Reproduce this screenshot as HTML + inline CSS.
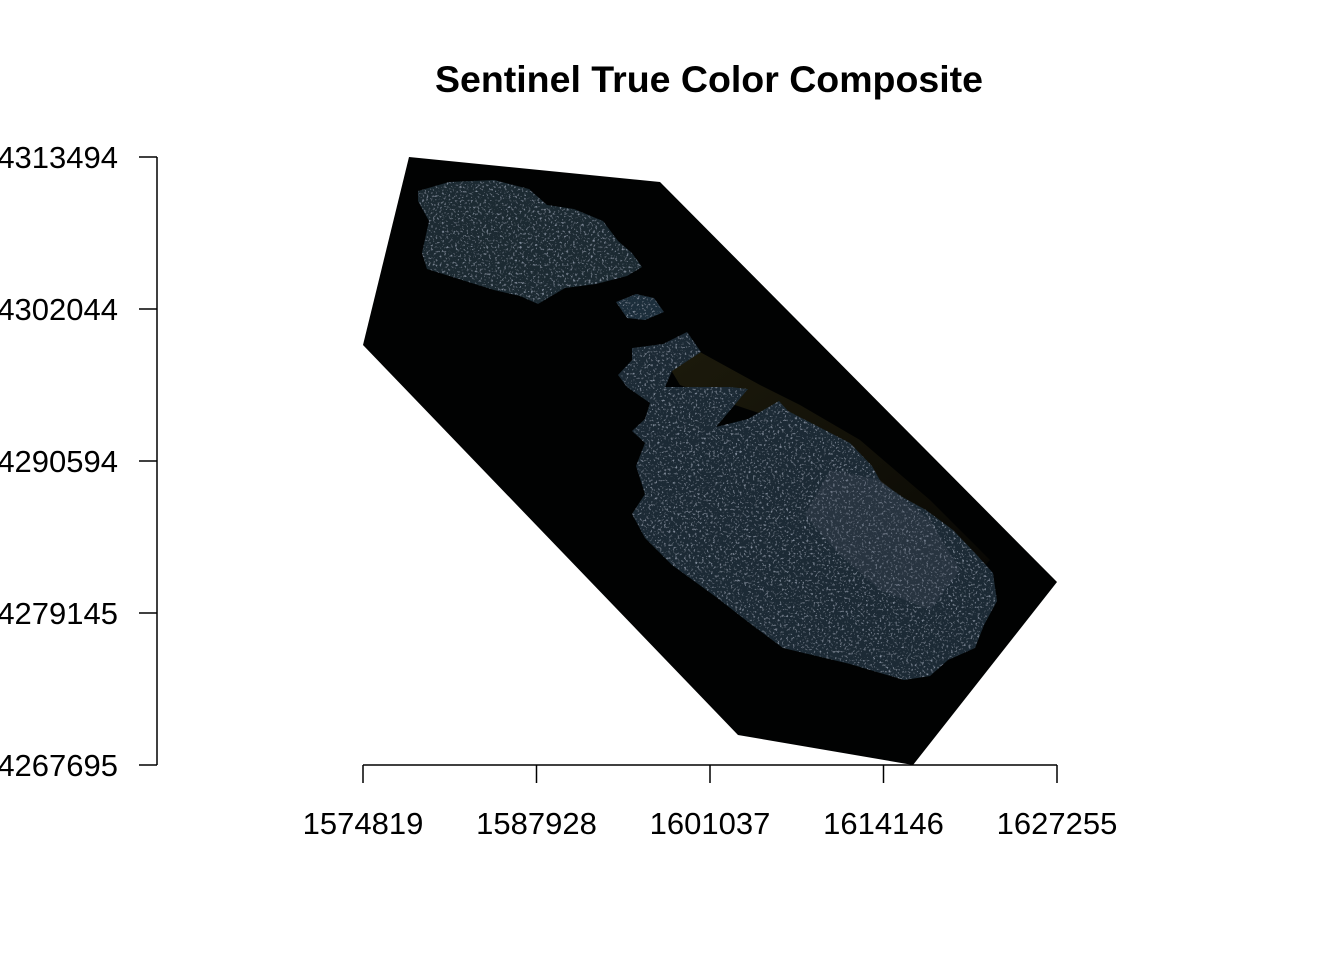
<!DOCTYPE html>
<html><head><meta charset="utf-8"><style>
html,body{margin:0;padding:0;background:#fff;}
svg{display:block;font-family:"Liberation Sans",Arial,sans-serif;}
</style></head><body>
<svg id="chart" width="1344" height="960" viewBox="0 0 1344 960">
<defs>
<filter id="tex" x="0" y="0" width="100%" height="100%">
<feTurbulence type="fractalNoise" baseFrequency="0.45" numOctaves="2" seed="3" result="n"/>
<feColorMatrix in="n" type="matrix" values="0 0 0 0 0.30  0 0 0 0 0.36  0 0 0 0 0.45  0 0 0 3 -1.75" result="speck"/>
<feComposite in="speck" in2="SourceGraphic" operator="in" result="s2"/>
<feMerge><feMergeNode in="SourceGraphic"/><feMergeNode in="s2"/></feMerge>
</filter>
<linearGradient id="sed" x1="0" y1="0" x2="1" y2="1">
<stop offset="0" stop-color="#2e2a12"/><stop offset="1" stop-color="#0e0c06"/>
</linearGradient>
</defs>
<text x="709" y="92" text-anchor="middle" font-size="37.5" font-weight="bold" fill="#000">Sentinel True Color Composite</text>
<g id="raster"></g>
<g id="axes"></g>
</svg>
<script>
const xTicks = [1574819, 1587928, 1601037, 1614146, 1627255];
const yTicks = [4267695, 4279145, 4290594, 4302044, 4313494];
const xTickLabels = ["1574819", "1587928", "1601037", "1614146", "1627255"];
const yTickLabels = ["4267695", "4279145", "4290594", "4302044", "4313494"];
// raster footprint and island outlines (image outline vertices, plot pixels)
const footprint = [[409,157],[660,182],[1057,582],[913,765],[738,735],[363,345]];
const sediment = [[665,360],[700,352],[760,385],[800,405],[860,440],[930,500],[990,560],[980,570],[920,520],[850,470],[780,420],[720,400],[680,385]];
const gozo = [[418,191],[449,182],[494,180],[529,189],[547,205],[574,209],[603,221],[618,241],[632,253],[642,267],[627,276],[596,284],[565,288],[538,304],[520,296],[494,290],[462,280],[427,269],[422,253],[429,221],[418,201]];
const comino = [[616,302],[636,294],[654,298],[664,312],[645,320],[627,318]];
const malta = [[632,348],[663,344],[687,332],[701,352],[672,371],[665,387],[690,387],[730,387],[748,389],[716,427],[748,419],[779,401],[788,411],[850,443],[872,466],[881,482],[904,498],[926,510],[953,530],[975,553],[993,573],[997,601],[984,625],[975,648],[948,660],[930,676],[904,680],[850,664],[783,648],[752,625],[716,597],[672,565],[645,538],[632,514],[645,494],[636,466],[645,443],[632,431],[645,419],[650,403],[627,387],[618,375],[632,360]];
const urban = [[830,470],[880,480],[930,520],[960,570],[930,610],[880,590],[840,555],[805,515]];

const NS = "http://www.w3.org/2000/svg";
const X0 = 363, X1 = 1057, Y0 = 765, Y1 = 157;
function sx(v){ return X0 + (v - xTicks[0]) / (xTicks[xTicks.length-1] - xTicks[0]) * (X1 - X0); }
function sy(v){ return Y0 - (v - yTicks[0]) / (yTicks[yTicks.length-1] - yTicks[0]) * (Y0 - Y1); }
function mk(tag, attrs, parent){ const e = document.createElementNS(NS, tag); for (const k in attrs) e.setAttribute(k, attrs[k]); parent.appendChild(e); return e; }
const pts = a => a.map(p => p.join(",")).join(" ");

const r = document.getElementById("raster");
let p;
p = mk("polygon", {points: pts(footprint), fill: "#010202"}, r);


p = mk("polygon", {points: pts(sediment), fill: "url(#sed)", opacity: "0.6"}, r);


p = mk("polygon", {points: pts(gozo), fill: "#1a2a33", filter: "url(#tex)"}, r);


p = mk("polygon", {points: pts(comino), fill: "#1e2e3a", filter: "url(#tex)"}, r);


p = mk("polygon", {points: pts(malta), fill: "#1b2b35", filter: "url(#tex)"}, r);


p = mk("polygon", {points: pts(urban), fill: "#4a5565", opacity: "0.25"}, r);



const a = document.getElementById("axes");
const st = {stroke: "#000", "stroke-width": "1.5", fill: "none"};
let l = mk("line", Object.assign({x1: sx(xTicks[0]), x2: sx(xTicks[xTicks.length-1]), y1: Y0, y2: Y0}, st), a);


l = mk("line", Object.assign({x1: 157, x2: 157, y1: sy(yTicks[0]), y2: sy(yTicks[yTicks.length-1])}, st), a);


xTicks.forEach((v, i) => {
  const x = sx(v);
  const t = mk("line", Object.assign({x1: x, x2: x, y1: Y0, y2: Y0 + 18}, st), a);
  
  
  const tx = mk("text", {x: x, y: 834, "text-anchor": "middle", "font-size": "31", fill: "#000"}, a);
  tx.textContent = xTickLabels[i];
  
  
});
yTicks.forEach((v, i) => {
  const y = sy(v);
  const t = mk("line", Object.assign({x1: 139, x2: 157, y1: y, y2: y}, st), a);
  
  
  const tx = mk("text", {x: 118, y: y + 11, "text-anchor": "end", "font-size": "31", fill: "#000"}, a);
  tx.textContent = yTickLabels[i];
  
  
});
</script>
</body></html>
